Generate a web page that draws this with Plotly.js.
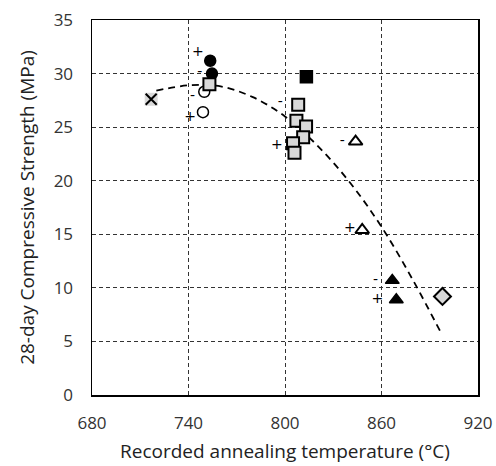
<!DOCTYPE html>
<html><head><meta charset="utf-8">
<script src="https://cdn.plot.ly/plotly-3.0.1.min.js"></script>
<style>body{margin:0;background:#fff}#chart{width:496px;height:466px}</style>
</head><body><div id="chart"></div>
<script>
// Data
const crossX = [716.8], crossY = [27.6];
const filledCircleX = [753.5, 754.6], filledCircleY = [31.2, 30.0];
const openCircleX = [749.8, 749.0], openCircleY = [28.3, 26.4];
const greySquareX = [753.0, 808.2, 807.1, 813.1, 811.3, 805.0, 805.9], greySquareY = [29.0, 27.1, 25.6, 25.05, 24.05, 23.5, 22.6];
const blackSquareX = [813.3], blackSquareY = [29.7];
const openTriX = [843.9, 848.0], openTriY = [23.65, 15.4];
const filledTriX = [866.7, 869.2], filledTriY = [10.7, 8.9];
const diamondX = [897.9], diamondY = [9.2];
const signX = [745.8, 747.0, 742.5, 741.0, 797.0, 795.0, 835.6, 840.3, 856.3, 857.4];
const signY = [32.0, 30.1, 27.9, 25.9, 27.3, 23.3, 23.7, 15.55, 10.65, 8.95];
const signText = ['+', '-', '-', '+', '-', '+', '-', '+', '-', '+'];
const trendX = [720, 740, 760, 780, 800, 820, 840, 860, 880, 897];
const trendY = [28.4, 28.9, 28.8, 27.8, 26.0, 23.3, 19.9, 15.7, 10.6, 5.8];
const xTicks = [680, 740, 800, 860, 920];
const yTicks = [0, 5, 10, 15, 20, 25, 30, 35];

const ln = {color: '#000', width: 1.5};
const traces = [
  {x: trendX, y: trendY, mode: 'lines', line: {color: '#000', width: 1.8, dash: '7px,5px', shape: 'spline'}},
  {x: crossX, y: crossY, mode: 'markers', marker: {symbol: 'square', size: 13, color: '#d9d9d9', line: {width: 0}}},
  {x: crossX, y: crossY, mode: 'markers', marker: {symbol: 'x-thin', size: 11, color: '#000', line: {color: '#000', width: 2}}},
  {x: filledCircleX, y: filledCircleY, mode: 'markers', marker: {symbol: 'circle', size: 11, color: '#000', line: ln}},
  {x: openCircleX, y: openCircleY, mode: 'markers', marker: {symbol: 'circle', size: 11, color: '#fff', line: ln}},
  {x: greySquareX, y: greySquareY, mode: 'markers', marker: {symbol: 'square', size: 12, color: '#d9d9d9', line: {color: '#000', width: 2}}},
  {x: blackSquareX, y: blackSquareY, mode: 'markers', marker: {symbol: 'square', size: 12, color: '#000', line: ln}},
  {x: openTriX, y: openTriY, mode: 'markers', marker: {symbol: 'triangle-up', size: 12, color: '#fff', line: {color: '#000', width: 2}}},
  {x: filledTriX, y: filledTriY, mode: 'markers', marker: {symbol: 'triangle-up', size: 12, color: '#000', line: ln}},
  {x: diamondX, y: diamondY, mode: 'markers', marker: {symbol: 'diamond', size: 13, color: '#d9d9d9', line: {color: '#000', width: 2}}},
  {x: signX, y: signY, mode: 'text', text: signText, textposition: 'middle center', textfont: {family: 'DejaVu Sans', size: 14, color: '#000'}}
];
const layout = {
  width: 496, height: 466,
  margin: {l: 92, r: 18, t: 20, b: 71},
  showlegend: false,
  paper_bgcolor: '#fff', plot_bgcolor: '#fff',
  font: {family: 'Open Sans', color: '#333'},
  xaxis: {range: [680, 920], tickvals: xTicks, ticktext: xTicks.map(String), showgrid: true, gridcolor: '#333', griddash: '4px,3px', gridwidth: 1,
    showline: true, linecolor: '#000', linewidth: 1.5, mirror: true, zeroline: false, ticks: '', ticklabelstandoff: 12, tickfont: {size: 17, color: '#333'},
    title: {text: 'Recorded annealing temperature (°C)', font: {size: 19, color: '#222'}, standoff: 12}},
  yaxis: {range: [0, 35], tickvals: yTicks, ticktext: yTicks.map(String), showgrid: true, gridcolor: '#333', griddash: '4px,3px', gridwidth: 1,
    showline: true, linecolor: '#000', linewidth: 1.5, mirror: true, zeroline: false, ticks: '', ticklabelstandoff: 14, tickfont: {size: 17, color: '#333'},
    title: {text: '28-day Compressive Strength (MPa)', font: {size: 19, color: '#222'}, standoff: 14}}
};
Plotly.newPlot('chart', traces, layout, {displayModeBar: false, staticPlot: true});
</script></body></html>
